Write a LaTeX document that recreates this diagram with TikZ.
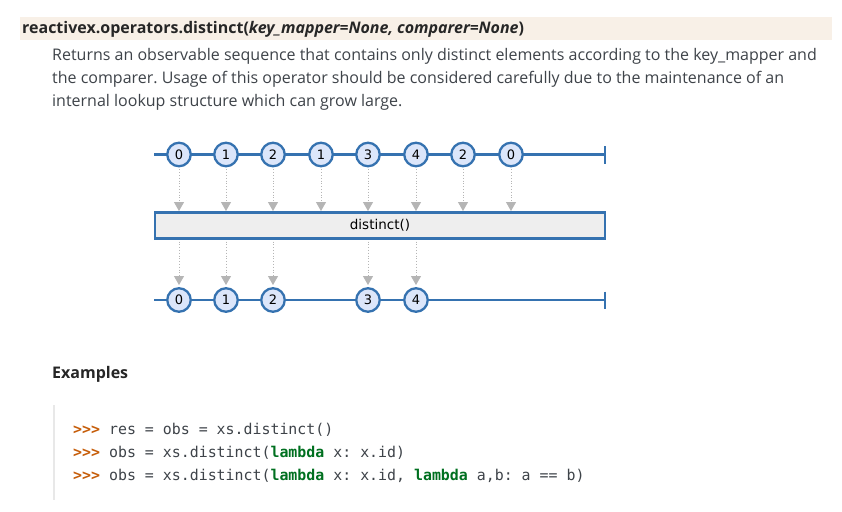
\documentclass[tikz,border=0pt]{standalone}
\usepackage{fontspec}
\setmainfont{Open Sans}
\newfontfamily\codefont{DejaVu Sans Mono}
\newfontfamily\marblefont{DejaVu Sans}
\usetikzlibrary{arrows.meta}
\frenchspacing
\definecolor{txt}{HTML}{3E4349}
\definecolor{sigbg}{HTML}{F8F0E7}
\definecolor{mblue}{HTML}{3572B0}
\definecolor{mfill}{HTML}{DCE6FA}
\definecolor{agray}{HTML}{B5B5B5}
\definecolor{boxfill}{HTML}{EEEEEE}
\definecolor{prompt}{HTML}{C65D09}
\definecolor{kw}{HTML}{007020}
\definecolor{bord}{HTML}{E8E8E8}
\tikzset{
  marble/.style={circle, draw=mblue, line width=2.3pt, fill=mfill, minimum size=23.5pt, inner sep=0pt, font=\marblefont\fontsize{13}{13}\selectfont, text=black},
  timeline/.style={draw=mblue, line width=2.4pt},
  flow/.style={draw=agray, line width=0.8pt, dotted, -{Triangle[length=9pt,width=10pt,fill=agray]}},
  opbox/.style={draw=mblue, line width=2.4pt, fill=boxfill, minimum width=450pt, minimum height=26pt, inner sep=0pt, font=\marblefont\fontsize{13.5}{13.5}\selectfont, text=black},
  para/.style={anchor=base west, inner sep=0pt, text=txt, font=\fontsize{16}{16}\selectfont},
  codeline/.style={anchor=base west, inner sep=0pt, text=txt, font=\codefont\fontsize{14.9}{14.9}\selectfont},
}
\begin{document}
\begin{tikzpicture}[x=1pt,y=-1pt]
\useasboundingbox[fill=white] (0,0) rectangle (842,511);
% signature header
\fill[sigbg] (20,17) rectangle (832,40);
\node[para, text=black!85] (sig) at (22,33.5) {\fontsize{16}{16}\selectfont\bfseries reactivex.operators.distinct(\textit{key\_mapper=None, comparer=None})};
% description
\node[para] (p1) at (52,60) {Returns an observable sequence that contains only distinct elements according to the key\_mapper and};
\node[para] (p2) at (52,83) {the comparer. Usage of this operator should be considered carefully due to the maintenance of an};
\node[para] (p3) at (52,106) {internal lookup structure which can grow large.};
% top timeline
\coordinate (ts) at (154,154.5);
\coordinate (te) at (605,154.5);
\draw[timeline] (ts) -- (te);
\draw[timeline] (605,146) -- (605,163.5);
\foreach \x/\v [count=\i] in {179/0,226/1,273/2,321/1,368/3,416/4,463/2,511/0}{
  \node[marble] (t\i) at (\x,154.5) {\v};
}
% operator box
\node[opbox] (op) at (380,225.5) {distinct()};
\foreach \i in {1,...,8}{
  \coordinate (ta\i) at (t\i |- 0,211);
  \draw[flow] (t\i.south) ++(0,2) -- (ta\i);
}
% bottom timeline
\coordinate (bs) at (154,300);
\coordinate (be) at (605,300);
\draw[timeline] (bs) -- (be);
\draw[timeline] (605,291.5) -- (605,309);
\foreach \x/\v/\n in {179/0/1,226/1/2,273/2/3,368/3/4,416/4/5}{
  \node[marble] (b\n) at (\x,300) {\v};
  \coordinate (bt\n) at (\x,285);
  \draw[flow] (\x,241.5) -- (bt\n);
}
% Examples
\node[para, font=\fontsize{16}{16}\selectfont\bfseries, text=black!85] (ex) at (52,378) {Examples};
% code block
\draw[bord, line width=2pt] (53.5,405) -- (53.5,500);
\node[codeline] (c1) at (73,434) {\textcolor{prompt}{\bfseries >>>} res = obs = xs.distinct()};
\node[codeline] (c2) at (73,457) {\textcolor{prompt}{\bfseries >>>} obs = xs.distinct(\textcolor{kw}{\bfseries lambda} x: x.id)};
\node[codeline] (c3) at (73,480) {\textcolor{prompt}{\bfseries >>>} obs = xs.distinct(\textcolor{kw}{\bfseries lambda} x: x.id, \textcolor{kw}{\bfseries lambda} a,b: a == b)};
\end{tikzpicture}
\end{document}
